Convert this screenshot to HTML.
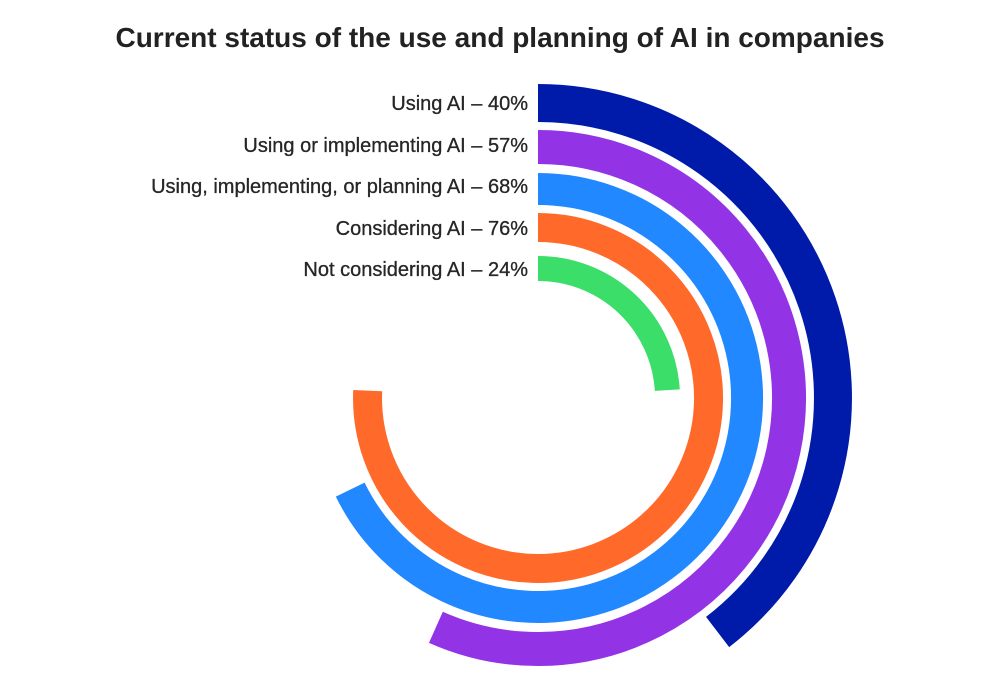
<!DOCTYPE html>
<html><head><meta charset="utf-8"><style>
body{margin:0;background:#fff;}
.t{font-family:"Liberation Sans",sans-serif;}
</style></head><body>
<svg width="1000" height="689" viewBox="0 0 1000 689" xmlns="http://www.w3.org/2000/svg">
<rect width="1000" height="689" fill="#fff"/>
<text class="t" x="500" y="47" text-anchor="middle" font-size="28" font-weight="bold" fill="#222">Current status of the use and planning of AI in companies</text>
<g class="t" font-size="20" fill="#262626" stroke="#262626" stroke-width="0.3" text-anchor="end">
<text x="528" y="110">Using AI – 40%</text>
<text x="528" y="152">Using or implementing AI – 57%</text>
<text x="528" y="193">Using, implementing, or planning AI – 68%</text>
<text x="528" y="235">Considering AI – 76%</text>
<text x="528" y="276">Not considering AI – 24%</text>
</g>
<g transform="translate(538,398)" fill="none" stroke-linejoin="round">
<path d="M0,-295 A295,295 0 0 1 179.6,234" stroke="#001aaa" stroke-width="38"/>
<path d="M0,-251 A251,251 0 1 1 -102.1,229.3" stroke="#9333e6" stroke-width="34"/>
<path d="M0,-209 A209,209 0 1 1 -187.8,91.6" stroke="#2288ff" stroke-width="32"/>
<path d="M0,-170.5 A170.5,170.5 0 1 1 -170.3,-7.4" stroke="#ff6a2b" stroke-width="29"/>
<path d="M0,-129.5 A129.5,129.5 0 0 1 129.3,-7.9" stroke="#3ade68" stroke-width="25"/>
</g>
</svg>
</body></html>
